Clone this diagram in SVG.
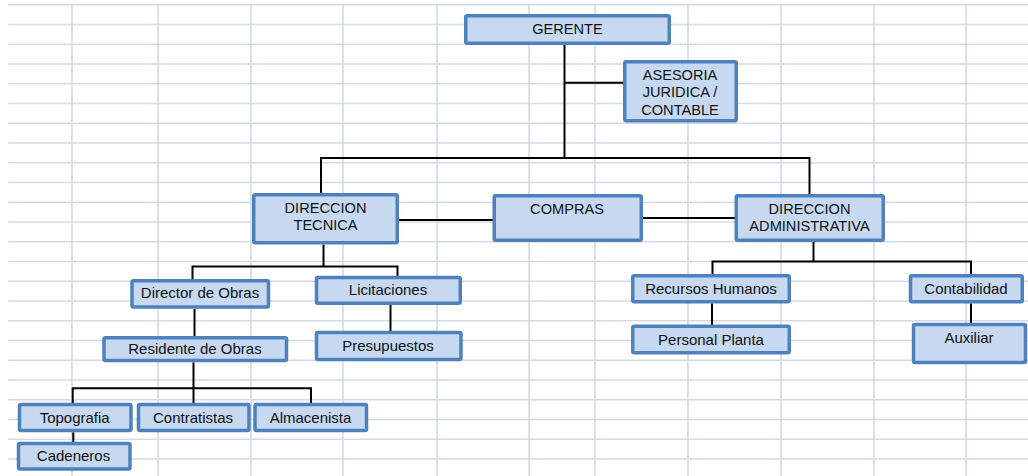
<svg xmlns="http://www.w3.org/2000/svg" width="1028" height="476" viewBox="0 0 1028 476">
  <style>
    .grid line { stroke: #d3dae8; stroke-width: 1.6; }
    .box { fill: #c6d9f1; stroke: #4f81bd; stroke-width: 3.5; }
    .lbl { font-family: "Liberation Sans", Arial, sans-serif; font-size: 15px; fill: #111; text-anchor: middle; }
    .cap { font-size: 14.6px; }
    .conn path { fill: none; stroke: #000; stroke-width: 2; }
  </style>

  <rect x="0" y="0" width="1028" height="476" fill="#ffffff"/>

  <!-- spreadsheet grid -->
  <g class="grid">
    <line x1="8" y1="4.7" x2="1028" y2="4.7"/>
    <line x1="8" y1="24.45" x2="1028" y2="24.45"/>
    <line x1="8" y1="44.2" x2="1028" y2="44.2"/>
    <line x1="8" y1="63.95" x2="1028" y2="63.95"/>
    <line x1="8" y1="83.7" x2="1028" y2="83.7"/>
    <line x1="8" y1="103.45" x2="1028" y2="103.45"/>
    <line x1="8" y1="123.2" x2="1028" y2="123.2"/>
    <line x1="8" y1="142.95" x2="1028" y2="142.95"/>
    <line x1="8" y1="162.7" x2="1028" y2="162.7"/>
    <line x1="8" y1="182.45" x2="1028" y2="182.45"/>
    <line x1="8" y1="202.2" x2="1028" y2="202.2"/>
    <line x1="8" y1="221.95" x2="1028" y2="221.95"/>
    <line x1="8" y1="241.7" x2="1028" y2="241.7"/>
    <line x1="8" y1="261.45" x2="1028" y2="261.45"/>
    <line x1="8" y1="281.2" x2="1028" y2="281.2"/>
    <line x1="8" y1="300.95" x2="1028" y2="300.95"/>
    <line x1="8" y1="320.7" x2="1028" y2="320.7"/>
    <line x1="8" y1="340.45" x2="1028" y2="340.45"/>
    <line x1="8" y1="360.2" x2="1028" y2="360.2"/>
    <line x1="8" y1="379.95" x2="1028" y2="379.95"/>
    <line x1="8" y1="399.7" x2="1028" y2="399.7"/>
    <line x1="8" y1="419.45" x2="1028" y2="419.45"/>
    <line x1="8" y1="439.2" x2="1028" y2="439.2"/>
    <line x1="8" y1="458.95" x2="1028" y2="458.95"/>
    <line x1="72" y1="4" x2="72" y2="476"/>
    <line x1="158" y1="4" x2="158" y2="476"/>
    <line x1="251" y1="4" x2="251" y2="476"/>
    <line x1="343" y1="4" x2="343" y2="476"/>
    <line x1="437" y1="4" x2="437" y2="476"/>
    <line x1="529" y1="4" x2="529" y2="476"/>
    <line x1="595" y1="4" x2="595" y2="476"/>
    <line x1="688" y1="4" x2="688" y2="476"/>
    <line x1="781" y1="4" x2="781" y2="476"/>
    <line x1="874" y1="4" x2="874" y2="476"/>
    <line x1="966" y1="4" x2="966" y2="476"/>
  </g>

  <!-- connectors -->
  <g id="connectors" class="conn">
    <path d="M564.5 45 V158"/>
    <path d="M564.5 82.7 H623"/>
    <path d="M320.5 158 H810"/>
    <path d="M321 157 V193"/>
    <path d="M809.5 157 V194"/>
    <path d="M399 220 H493"/>
    <path d="M643 218 H735"/>
    <path d="M813.5 242 V261.5"/>
    <path d="M712.5 275 V261.5 H971 V275"/>
    <path d="M712 303.5 V325"/>
    <path d="M971 303.5 V323"/>
    <path d="M323.5 244.5 V266.5"/>
    <path d="M192.5 279 V266.5 H397.5 V276"/>
    <path d="M194.5 308.7 V336"/>
    <path d="M390.5 305 V331"/>
    <path d="M193.5 362.3 V403"/>
    <path d="M72.7 403 V388.3 H311 V403"/>
    <path d="M73.3 432.3 V442"/>
  </g>

  <!-- nodes -->
  <g id="gerente">
    <rect class="box" x="465.75" y="15.75" width="203.5" height="27.5" rx="1.5"/>
    <text class="lbl cap" x="567.5" y="34.3">GERENTE</text>
  </g>
  <g id="asesoria">
    <rect class="box" x="624.75" y="61.75" width="111.5" height="59" rx="1.5"/>
    <text class="lbl cap" x="680" y="80">ASESORIA</text>
    <text class="lbl cap" x="680" y="97.4">JURIDICA /</text>
    <text class="lbl cap" x="680" y="114.7">CONTABLE</text>
  </g>
  <g id="direccion-tecnica">
    <rect class="box" x="253.75" y="194.75" width="143.5" height="48" rx="1.5"/>
    <text class="lbl cap" x="325.5" y="213.4">DIRECCION</text>
    <text class="lbl cap" x="325.5" y="230.2">TECNICA</text>
  </g>
  <g id="compras">
    <rect class="box" x="494.25" y="195.75" width="147" height="44.5" rx="1.5"/>
    <text class="lbl cap" x="567" y="214">COMPRAS</text>
  </g>
  <g id="direccion-administrativa">
    <rect class="box" x="736.25" y="195.75" width="147" height="44.5" rx="1.5"/>
    <text class="lbl cap" x="809.5" y="214.3">DIRECCION</text>
    <text class="lbl cap" x="809.5" y="231">ADMINISTRATIVA</text>
  </g>
  <g id="recursos-humanos">
    <rect class="box" x="632.75" y="275.75" width="156.5" height="26" rx="1.5"/>
    <text class="lbl" x="711" y="294">Recursos Humanos</text>
  </g>
  <g id="personal-planta">
    <rect class="box" x="632.75" y="326.25" width="156.5" height="26.5" rx="1.5"/>
    <text class="lbl" x="711" y="345">Personal Planta</text>
  </g>
  <g id="contabilidad">
    <rect class="box" x="910.5" y="275.75" width="111.75" height="26" rx="1.5"/>
    <text class="lbl" x="966" y="294">Contabilidad</text>
  </g>
  <g id="auxiliar">
    <rect class="box" x="913.5" y="324.5" width="112" height="38" rx="1.5"/>
    <text class="lbl" x="969" y="343.3">Auxiliar</text>
  </g>
  <g id="director-obras">
    <rect class="box" x="132" y="280.75" width="136.5" height="26.2" rx="1.5"/>
    <text class="lbl" x="200" y="298.3">Director de Obras</text>
  </g>
  <g id="licitaciones">
    <rect class="box" x="316.5" y="277.5" width="143.75" height="25.75" rx="1.5"/>
    <text class="lbl" x="388" y="295">Licitaciones</text>
  </g>
  <g id="residente-obras">
    <rect class="box" x="104" y="337.75" width="182.5" height="22.75" rx="1.5"/>
    <text class="lbl" x="195" y="354.3">Residente de Obras</text>
  </g>
  <g id="presupuestos">
    <rect class="box" x="316.5" y="332.5" width="144.5" height="27" rx="1.5"/>
    <text class="lbl" x="388" y="350.7">Presupuestos</text>
  </g>
  <g id="topografia">
    <rect class="box" x="19.5" y="404.5" width="111.5" height="26" rx="1.5"/>
    <text class="lbl" x="74.7" y="422.7">Topografia</text>
  </g>
  <g id="contratistas">
    <rect class="box" x="138.5" y="404.5" width="110.5" height="26" rx="1.5"/>
    <text class="lbl" x="193" y="422.7">Contratistas</text>
  </g>
  <g id="almacenista">
    <rect class="box" x="255" y="404.5" width="111.5" height="26" rx="1.5"/>
    <text class="lbl" x="310.5" y="422.7">Almacenista</text>
  </g>
  <g id="cadeneros">
    <rect class="box" x="18.5" y="443.5" width="111.5" height="25.5" rx="1.5"/>
    <text class="lbl" x="73.5" y="460.7">Cadeneros</text>
  </g>
</svg>
